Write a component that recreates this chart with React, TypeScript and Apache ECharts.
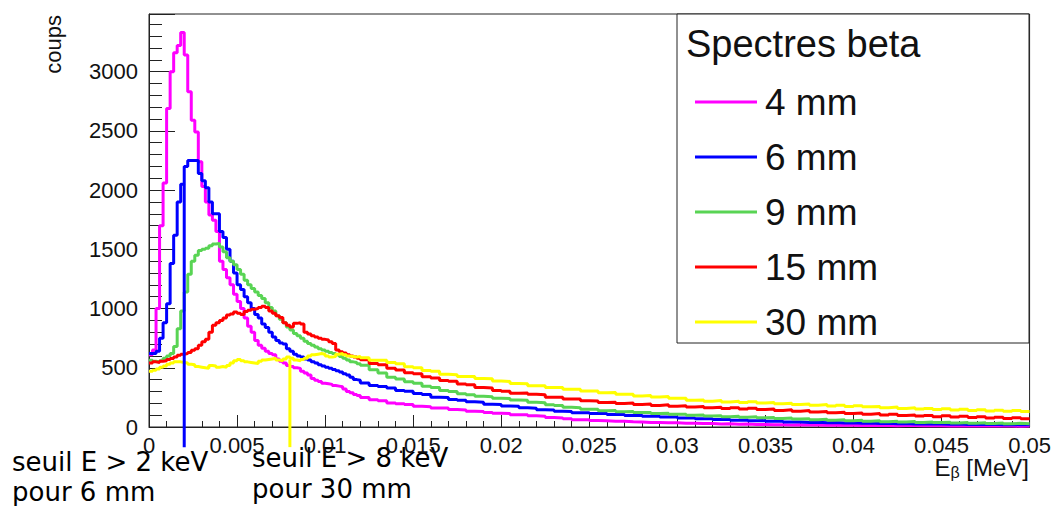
import React, { useEffect, useRef } from "react";
import * as echarts from "echarts";

// Bin layout (MeV): fine bins up to 0.012, coarser bins beyond
const FINE_WIDTH = 0.0002;
const FINE_END = 0.012;
const TAIL_WIDTH = 0.0005;
const X_MIN = 0;
const X_MAX = 0.05;
const Y_MAX = 3487;

const seriesNames = ["4 mm", "6 mm", "9 mm", "15 mm", "30 mm"];
const seriesColors = ["#ff00ff", "#0000ff", "#59d454", "#ff0000", "#ffff00"];

const magentaFine = [610, 650, 1000, 1700, 2060, 2690, 3000, 3160, 3220, 3330, 3140, 2830, 2590, 2490, 2240, 2030, 1900, 1790, 1745, 1650, 1400, 1330, 1260, 1200, 1120, 1060, 1000, 920, 850, 800, 730, 690, 665, 640, 620, 610, 575, 555, 540, 520, 510, 500, 495, 470, 455, 440, 410, 395, 385, 370, 365, 360, 350, 345, 340, 320, 300, 290, 275, 265];
const magentaTail = [250, 230, 221, 203, 197, 190, 176, 172, 160, 161, 148, 144, 133, 131, 123, 116, 113, 104, 103, 94, 90, 80, 77, 70, 62, 61, 55, 53, 49, 48, 44, 43, 39, 39, 35, 36, 31, 32, 29, 29, 26, 27, 24, 25, 21, 22, 19, 20, 17, 18, 16, 17, 15, 16, 14, 15, 13, 14, 12, 13, 11, 12, 12, 10, 11, 10, 9, 11, 9, 10, 8, 9, 9, 8, 7, 8];

const blueFine = [620, 620, 640, 750, 880, 1040, 1380, 1620, 1900, 2050, 2200, 2250, 2250, 2250, 2140, 2080, 2020, 1900, 1800, 1800, 1650, 1600, 1500, 1400, 1300, 1200, 1160, 1100, 1050, 1000, 950, 920, 870, 840, 800, 760, 730, 710, 700, 660, 640, 615, 600, 590, 575, 565, 550, 540, 525, 515, 505, 495, 485, 475, 465, 450, 440, 420, 400, 395];
const blueTail = [372, 350, 342, 330, 309, 302, 283, 275, 252, 249, 233, 225, 213, 208, 193, 189, 177, 175, 162, 158, 146, 144, 132, 130, 121, 121, 113, 114, 105, 106, 98, 99, 90, 91, 84, 84, 76, 77, 69, 70, 63, 64, 58, 59, 53, 54, 48, 49, 43, 43, 39, 40, 36, 37, 34, 35, 32, 33, 30, 31, 28, 29, 26, 28, 25, 26, 24, 25, 22, 24, 21, 23, 20, 22, 19, 20];

const greenFine = [563, 555, 550, 560, 580, 600, 620, 680, 830, 980, 1140, 1290, 1400, 1450, 1490, 1500, 1510, 1530, 1545, 1550, 1520, 1480, 1430, 1400, 1370, 1330, 1290, 1240, 1200, 1170, 1140, 1110, 1085, 1050, 1010, 980, 940, 910, 880, 845, 820, 790, 770, 750, 725, 705, 690, 675, 660, 650, 640, 630, 620, 610, 595, 580, 565, 550, 545, 535];
const greenTail = [522, 484, 455, 420, 405, 383, 370, 344, 333, 308, 300, 280, 273, 259, 256, 243, 241, 228, 225, 209, 204, 187, 181, 166, 163, 149, 149, 137, 139, 129, 131, 122, 123, 114, 116, 107, 108, 99, 102, 93, 96, 87, 91, 83, 87, 78, 81, 72, 75, 67, 70, 62, 65, 57, 61, 53, 57, 49, 53, 45, 49, 42, 46, 39, 43, 37, 40, 34, 38, 32, 36, 30, 34, 28, 31, 27];

const redFine = [540, 550, 545, 555, 560, 570, 578, 590, 606, 615, 620, 630, 648, 660, 690, 720, 740, 800, 860, 880, 900, 920, 945, 955, 970, 960, 950, 975, 985, 995, 1000, 1010, 1020, 1010, 980, 960, 940, 925, 880, 860, 845, 875, 880, 870, 800, 785, 770, 760, 750, 740, 735, 720, 705, 650, 635, 625, 610, 600, 590, 580];
const redTail = [568, 537, 526, 496, 482, 458, 449, 424, 414, 392, 386, 362, 356, 334, 329, 308, 302, 286, 288, 276, 272, 252, 252, 236, 236, 221, 219, 206, 210, 198, 202, 191, 194, 182, 187, 176, 180, 168, 173, 162, 167, 156, 162, 152, 159, 148, 152, 140, 145, 134, 139, 127, 131, 120, 124, 113, 118, 108, 113, 102, 108, 97, 102, 92, 98, 87, 94, 84, 90, 80, 86, 76, 82, 72, 78, 70];

const yellowFine = [470, 480, 490, 505, 515, 530, 540, 550, 550, 545, 540, 530, 525, 510, 505, 500, 495, 520, 515, 505, 510, 505, 520, 540, 560, 570, 560, 550, 545, 540, 535, 555, 565, 570, 575, 580, 565, 560, 575, 590, 580, 565, 560, 570, 580, 600, 610, 615, 620, 615, 600, 590, 595, 615, 620, 610, 600, 595, 590, 595];
const yellowTail = [585, 563, 563, 544, 534, 508, 500, 476, 470, 446, 442, 426, 426, 410, 408, 388, 385, 368, 366, 348, 349, 334, 334, 318, 319, 304, 304, 290, 292, 276, 276, 262, 266, 254, 258, 242, 242, 226, 229, 218, 223, 212, 217, 207, 214, 203, 207, 196, 201, 190, 195, 184, 189, 178, 184, 174, 180, 172, 174, 163, 168, 157, 162, 151, 157, 147, 154, 144, 150, 140, 146, 136, 142, 132, 139, 131];

// Threshold markers: [energy MeV, top count, bottom count]
const threshold6mm = [0.002, 2050, -170];
const threshold30mm = [0.008, 570, -170];

function toSteps(fine: number[], tail: number[]): number[][] {
  const pts: number[][] = [];
  fine.forEach((v, i) => pts.push([+(X_MIN + i * FINE_WIDTH).toFixed(6), v]));
  tail.forEach((v, j) => pts.push([+(FINE_END + j * TAIL_WIDTH).toFixed(6), v]));
  pts.push([X_MAX, tail[tail.length - 1]]);
  return pts;
}

const allData = [
  toSteps(magentaFine, magentaTail),
  toSteps(blueFine, blueTail),
  toSteps(greenFine, greenTail),
  toSteps(redFine, redTail),
  toSteps(yellowFine, yellowTail),
];

const SANS = "Liberation Sans, Arial, Helvetica, sans-serif";
const DEJAVU = "DejaVu Sans, sans-serif";

export default function App() {
  const ref = useRef<HTMLDivElement>(null);
  useEffect(() => {
    if (!ref.current) return;
    const chart = echarts.init(ref.current, null, { renderer: "svg" });
    const histSeries = seriesNames.map((name, k) => ({
      name,
      type: "line",
      step: "end",
      data: allData[k],
      symbol: "none",
      showSymbol: false,
      lineStyle: { color: seriesColors[k], width: 3 },
      itemStyle: { color: seriesColors[k] },
      silent: true,
      z: 2 + k * 0.01,
    }));
    const vline = (t: number[], color: string, name: string) => ({
      name,
      type: "line",
      data: [
        [t[0], t[2]],
        [t[0], t[1]],
      ],
      symbol: "none",
      clip: false,
      silent: true,
      lineStyle: { color, width: 3 },
      z: 3,
    });
    chart.setOption({
      animation: false,
      backgroundColor: "#fff",
      grid: {
        left: 149,
        top: 14,
        width: 881,
        height: 413,
        show: true,
        borderColor: "#222",
        borderWidth: 1,
        backgroundColor: "transparent",
      },
      xAxis: {
        type: "value",
        min: X_MIN,
        max: X_MAX,
        interval: 0.005,
        axisLine: { show: true, lineStyle: { color: "#222", width: 1 } },
        axisTick: { show: true, inside: true, length: 12, lineStyle: { color: "#222" } },
        minorTick: { show: true, splitNumber: 5, length: 6, lineStyle: { color: "#222" } },
        splitLine: { show: false },
        axisLabel: { color: "#111", fontSize: 22, fontFamily: SANS, margin: 7 },
      },
      yAxis: {
        type: "value",
        min: 0,
        max: Y_MAX,
        interval: 500,
        axisLine: { show: true, lineStyle: { color: "#222", width: 1 } },
        axisTick: { show: true, inside: true, length: 26, lineStyle: { color: "#222" } },
        minorTick: { show: true, splitNumber: 5, length: 13, lineStyle: { color: "#222" } },
        splitLine: { show: false },
        axisLabel: {
          color: "#111",
          fontSize: 22,
          fontFamily: SANS,
          margin: 11,
          formatter: (v: number) => (Math.abs(v % 500) < 1e-6 ? String(v) : ""),
        },
      },
      legend: {
        data: seriesNames,
        orient: "vertical",
        left: 690,
        top: 77,
        itemWidth: 62,
        itemHeight: 3,
        itemGap: 15,
        icon: "rect",
        selectedMode: false,
        textStyle: {
          fontSize: 37,
          fontFamily: SANS,
          color: "#111",
          lineHeight: 40,
          padding: [0, 0, 0, 3],
        },
        z: 6,
      },
      graphic: [
        {
          type: "rect",
          z: 5,
          shape: { x: 677, y: 14, width: 352, height: 329 },
          style: { fill: "#fff", stroke: "#222", lineWidth: 1 },
        },
        {
          type: "text",
          z: 6,
          x: 686,
          y: 44,
          style: {
            text: "Spectres beta",
            fontSize: 38,
            fontFamily: SANS,
            fill: "#111",
            textVerticalAlign: "middle",
          },
        },
        {
          type: "text",
          x: 53,
          y: 15,
          rotation: Math.PI / 2,
          style: {
            text: "coups",
            fontSize: 22,
            fontFamily: SANS,
            fill: "#111",
            textAlign: "right",
            textVerticalAlign: "middle",
          },
        },
        {
          type: "text",
          x: 1029,
          y: 467,
          style: {
            text: "{e|E}{b|β}{e| [MeV]}",
            textAlign: "right",
            textVerticalAlign: "middle",
            rich: {
              e: { fontSize: 24, fontFamily: SANS, fill: "#111", verticalAlign: "middle" },
              b: { fontSize: 16, fontFamily: SANS, fill: "#111", padding: [11, 0, 0, 0], verticalAlign: "middle" },
            },
          },
        },
        {
          type: "text",
          x: 12,
          y: 462,
          style: { text: "seuil E > 2 keV", fontSize: 26, fontFamily: DEJAVU, fill: "#000", textVerticalAlign: "middle" },
        },
        {
          type: "text",
          x: 12,
          y: 492,
          style: { text: "pour 6 mm", fontSize: 26, fontFamily: DEJAVU, fill: "#000", textVerticalAlign: "middle" },
        },
        {
          type: "text",
          x: 252,
          y: 458,
          style: { text: "seuil E > 8 keV", fontSize: 26, fontFamily: DEJAVU, fill: "#000", textVerticalAlign: "middle" },
        },
        {
          type: "text",
          x: 252,
          y: 489,
          style: { text: "pour 30 mm", fontSize: 26, fontFamily: DEJAVU, fill: "#000", textVerticalAlign: "middle" },
        },
      ],
      series: [
        ...histSeries,
        vline(threshold6mm, "#0000ff", "seuil6"),
        vline(threshold30mm, "#ffff00", "seuil30"),
      ],
    });
    return () => chart.dispose();
  }, []);
  return (
    <div
      ref={ref}
      style={{ position: "absolute", left: 0, top: 0, width: 1054, height: 506 }}
    />
  );
}
